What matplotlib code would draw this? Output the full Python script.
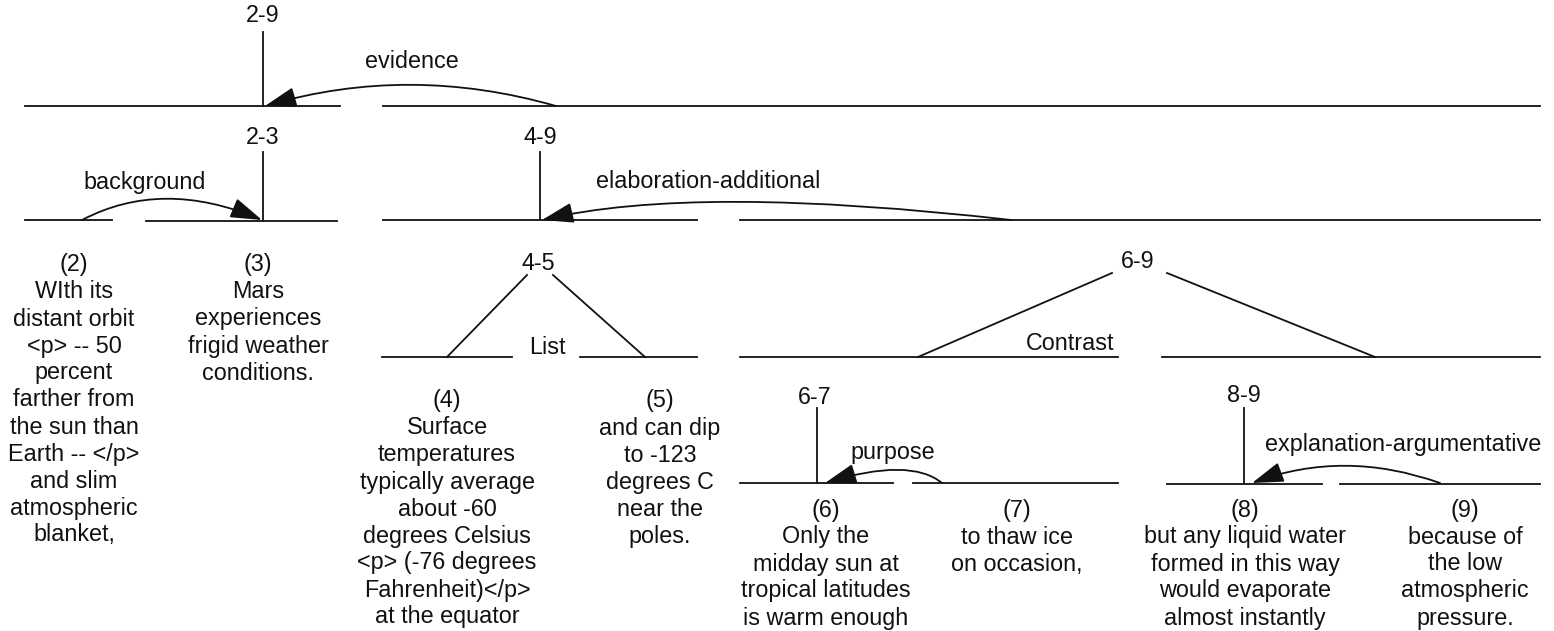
import matplotlib
matplotlib.use('Agg')
import matplotlib.pyplot as plt
from matplotlib.path import Path
from matplotlib.patches import FancyArrowPatch

# elementary discourse units (leaves)
edu_text = [
    ['(2)', 'WIth its', 'distant orbit', '<p> -- 50', 'percent', 'farther from',
     'the sun than', 'Earth -- </p>', 'and slim', 'atmospheric', 'blanket,'],
    ['(3)', 'Mars', 'experiences', 'frigid weather', 'conditions.'],
    ['(4)', 'Surface', 'temperatures', 'typically average', 'about -60',
     'degrees Celsius', '<p> (-76 degrees', 'Fahrenheit)</p>', 'at the equator'],
    ['(5)', 'and can dip', 'to -123', 'degrees C', 'near the', 'poles.'],
    ['(6)', 'Only the', 'midday sun at', 'tropical latitudes', 'is warm enough'],
    ['(7)', 'to thaw ice', 'on occasion,'],
    ['(8)', 'but any liquid water', 'formed in this way', 'would evaporate', 'almost instantly'],
    ['(9)', 'because of', 'the low', 'atmospheric', 'pressure.'],
]
edu_x = [74, 258, 447, 660, 826, 1017, 1245, 1465]
edu_top = [265, 265, 401, 401, 510, 510, 510, 510]
line_gap = 27

# span labels
span_names = ['2-9', '2-3', '4-9', '4-5', '6-9', '6-7', '8-9']
span_x = [263, 263, 540, 538, 1138, 815, 1244]
span_y = [16, 137, 137, 263, 262, 397, 395]

# horizontal rules under each span (x0, x1, y)
rule_x0 = [25, 383, 25, 146, 383, 740, 382, 580, 740, 1162, 740, 913, 1167, 1340]
rule_x1 = [340, 1540, 112, 337, 697, 1540, 512, 697, 1118, 1540, 893, 1118, 1322, 1540]
rule_y = [106, 106, 220, 221, 220, 220, 357, 357, 357, 357, 483, 483, 484, 484]

# nucleus stems (x, y top, y bottom)
stem_x = [263, 263, 540, 817, 1244]
stem_top = [32, 152, 152, 408, 408]
stem_bot = [106, 220, 220, 483, 484]

# mononuclear relations: satellite -> nucleus arcs
rel_names = ['evidence', 'background', 'elaboration-additional', 'purpose',
             'explanation-argumentative']
rel_start = [(556, 106), (82, 220), (1011, 220), (942, 483), (1440, 483)]
rel_end = [(265, 106), (262, 220), (542, 220), (825, 483), (1252, 483)]
rel_ctrl = [(409, 64), (162, 178), (695, 184), (910, 457), (1344, 449)]
rel_label_xy = [(412, 62), (145, 182), (708, 182), (893, 453), (1403, 445)]

# multinuclear relations: legs from span label to children
multi_names = ['List', 'Contrast']
multi_label_xy = [(547, 347), (1070, 343)]
leg_from = [(527, 275), (553, 275), (1112, 273), (1167, 273)]
leg_to = [(447, 357), (645, 357), (918, 357), (1375, 357)]

plt.rcParams['font.family'] = ['Liberation Sans', 'DejaVu Sans']
ink = '#111111'
fs = 16.8

fig = plt.figure(figsize=(15.54, 6.31), dpi=100)
ax = fig.add_axes([0, 0, 1, 1])
ax.set_xlim(0, 1554)
ax.set_ylim(631, 0)
ax.axis('off')

for x0, x1, y in zip(rule_x0, rule_x1, rule_y):
    ax.plot([x0, x1], [y, y], color=ink, lw=1.3)

for x, y0, y1 in zip(stem_x, stem_top, stem_bot):
    ax.plot([x, x], [y0, y1], color=ink, lw=1.3)

for (x0, y0), (x1, y1) in zip(leg_from, leg_to):
    ax.plot([x0, x1], [y0, y1], color=ink, lw=1.3)

for name, s, e, c, lab in zip(rel_names, rel_start, rel_end, rel_ctrl, rel_label_xy):
    p = Path([s, c, e], [Path.MOVETO, Path.CURVE3, Path.CURVE3])
    arr = FancyArrowPatch(path=p, arrowstyle='-|>,head_length=1.4,head_width=0.45',
                          mutation_scale=14, color=ink, lw=1.3)
    ax.add_patch(arr)
    ax.text(lab[0], lab[1], name, fontsize=fs, ha='center', va='center', color=ink)

for name, lab in zip(multi_names, multi_label_xy):
    ax.text(lab[0], lab[1], name, fontsize=fs, ha='center', va='center', color=ink)

for name, x, y in zip(span_names, span_x, span_y):
    ax.text(x, y, name, fontsize=fs, ha='center', va='center', color=ink)

for lines, x, top in zip(edu_text, edu_x, edu_top):
    for i, ln in enumerate(lines):
        ax.text(x, top + i * line_gap, ln, fontsize=fs, ha='center', va='center', color=ink)

fig.savefig('out.png', dpi=100, facecolor='white')
